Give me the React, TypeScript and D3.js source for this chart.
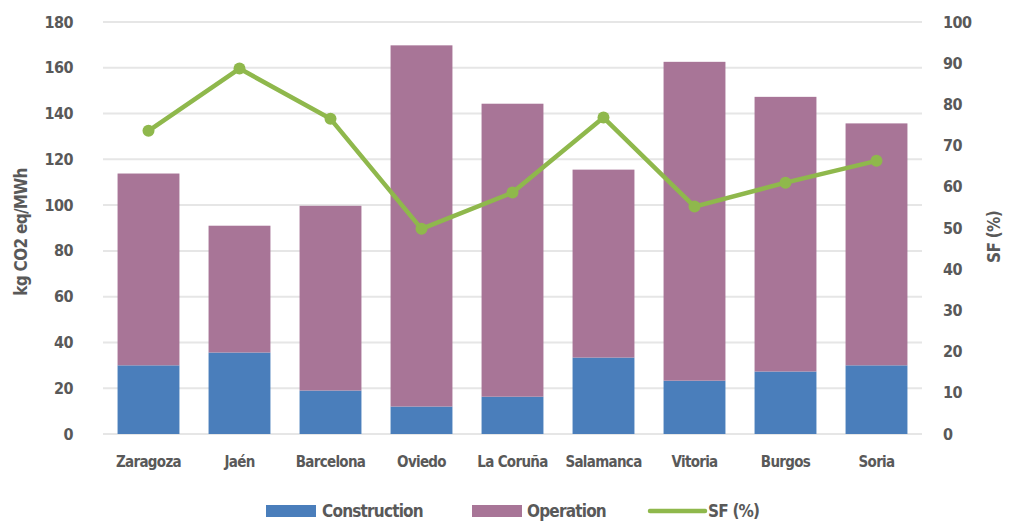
import React, { useEffect, useRef } from "react";
import * as d3 from "d3";

const cities = ["Zaragoza", "Jaén", "Barcelona", "Oviedo", "La Coruña", "Salamanca", "Vitoria", "Burgos", "Soria"];
const construction = [30, 35.6, 19, 12, 16.3, 33.4, 23.3, 27.3, 30];
const operation = [83.8, 55.4, 80.7, 157.8, 128, 82.1, 139.3, 120, 105.7];
const sf = [73.6, 88.7, 76.5, 49.8, 58.6, 76.8, 55.2, 61, 66.3];
const leftTicks = [0, 20, 40, 60, 80, 100, 120, 140, 160, 180];
const rightTicks = [0, 10, 20, 30, 40, 50, 60, 70, 80, 90, 100];

const FONT = "'Liberation Sans Narrow', 'DejaVu Sans Condensed', sans-serif";
const GREY = "#595959";

const App = () => {
  const ref = useRef<SVGSVGElement>(null);

  useEffect(() => {
    const svg = d3.select(ref.current);
    svg.selectAll("*").remove();

    const left = 103, right = 922, top = 22, bottom = 434;

    const x = d3.scaleBand().domain(cities).range([left, right]).paddingInner(0.32).paddingOuter(0.16);
    const y = d3.scaleLinear().domain([0, 180]).range([bottom, top]);
    const y2 = d3.scaleLinear().domain([0, 100]).range([bottom, top]);

    // gridlines
    svg.append("g")
      .selectAll("line")
      .data(leftTicks)
      .join("line")
      .attr("x1", left).attr("x2", right)
      .attr("y1", (d) => y(d)).attr("y2", (d) => y(d))
      .attr("stroke", "#e6e6e6").attr("stroke-width", 2);

    // stacked bars
    const bars = svg.append("g");
    cities.forEach((c, i) => {
      bars.append("rect")
        .attr("x", x(c)!).attr("width", x.bandwidth())
        .attr("y", y(construction[i])).attr("height", bottom - y(construction[i]))
        .attr("fill", "#4a7ebb");
      bars.append("rect")
        .attr("x", x(c)!).attr("width", x.bandwidth())
        .attr("y", y(construction[i] + operation[i]))
        .attr("height", y(construction[i]) - y(construction[i] + operation[i]))
        .attr("fill", "#a87597");
    });

    // SF line
    const cx = (i: number) => x(cities[i])! + x.bandwidth() / 2;
    const line = d3.line<number>().x((d, i) => cx(i)).y((d) => y2(d));
    svg.append("path").datum(sf)
      .attr("d", line)
      .attr("fill", "none").attr("stroke", "#8fb84c").attr("stroke-width", 4.5)
      .attr("stroke-linejoin", "round");
    svg.append("g").selectAll("circle").data(sf).join("circle")
      .attr("cx", (d, i) => cx(i)).attr("cy", (d) => y2(d)).attr("r", 6)
      .attr("fill", "#8fb84c");

    const txt = (g: any) => g.attr("font-family", FONT).attr("font-weight", "bold").attr("fill", GREY);

    // left ticks
    svg.append("g").selectAll("text").data(leftTicks).join("text")
      .attr("x", 73).attr("y", (d) => y(d)).attr("dy", "0.35em")
      .attr("text-anchor", "end").attr("font-size", 16).attr("letter-spacing", -0.5).call(txt)
      .text((d) => d);

    // right ticks
    svg.append("g").selectAll("text").data(rightTicks).join("text")
      .attr("x", 943).attr("y", (d) => y2(d)).attr("dy", "0.35em")
      .attr("text-anchor", "start").attr("font-size", 16).attr("letter-spacing", -0.5).call(txt)
      .text((d) => d);

    // x labels
    svg.append("g").selectAll("text").data(cities).join("text")
      .attr("x", (d) => x(d)! + x.bandwidth() / 2).attr("y", 467)
      .attr("text-anchor", "middle").attr("font-size", 15).attr("letter-spacing", -0.7).call(txt)
      .text((d) => d);

    // axis titles
    svg.append("text")
      .attr("transform", "translate(27,232) rotate(-90)")
      .attr("text-anchor", "middle").attr("font-size", 17).attr("letter-spacing", -0.7).call(txt)
      .text("kg CO2 eq/MWh");
    svg.append("text")
      .attr("transform", "translate(1000,237) rotate(-90)")
      .attr("text-anchor", "middle").attr("font-size", 17).attr("letter-spacing", -0.7).call(txt)
      .text("SF (%)");

    // legend
    const ly = 511;
    const lg = svg.append("g");
    lg.append("rect").attr("x", 266).attr("y", ly - 6).attr("width", 50).attr("height", 12).attr("fill", "#4a7ebb");
    lg.append("text").attr("x", 322).attr("y", ly).attr("dy", "0.35em").attr("font-size", 17).attr("letter-spacing", -0.8).call(txt).text("Construction");
    lg.append("rect").attr("x", 472).attr("y", ly - 6).attr("width", 50).attr("height", 12).attr("fill", "#a87597");
    lg.append("text").attr("x", 527).attr("y", ly).attr("dy", "0.35em").attr("font-size", 17).attr("letter-spacing", -0.8).call(txt).text("Operation");
    lg.append("line").attr("x1", 650).attr("x2", 705).attr("y1", ly).attr("y2", ly)
      .attr("stroke", "#8fb84c").attr("stroke-width", 4.5).attr("stroke-linecap", "round");
    lg.append("text").attr("x", 708).attr("y", ly).attr("dy", "0.35em").attr("font-size", 17).attr("letter-spacing", -0.8).call(txt).text("SF (%)");
  }, []);

  return (
    <svg ref={ref} width={1013} height={521} style={{ display: "block", position: "absolute", left: 0, top: 0, background: "#fff" }} />
  );
};

export default App;
